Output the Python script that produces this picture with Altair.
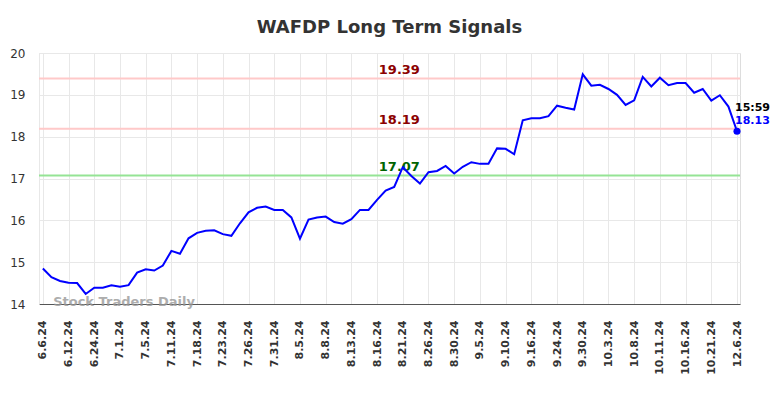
import altair as alt
import pandas as pd

values = [14.85, 14.64, 14.55, 14.51, 14.50, 14.24, 14.39, 14.39, 14.45, 14.41,
          14.45, 14.75, 14.83, 14.80, 14.92, 15.27, 15.20, 15.57, 15.70, 15.75,
          15.76, 15.67, 15.63, 15.93, 16.19, 16.30, 16.33, 16.25, 16.25, 16.07,
          15.56, 16.02, 16.07, 16.09, 15.96, 15.92, 16.03, 16.25, 16.25, 16.49,
          16.71, 16.80, 17.27, 17.06, 16.88, 17.15, 17.18, 17.30, 17.12, 17.28,
          17.39, 17.35, 17.35, 17.72, 17.71, 17.58, 18.39, 18.44, 18.44, 18.49,
          18.74, 18.69, 18.65, 19.49, 19.22, 19.24, 19.14, 19.00, 18.76, 18.87,
          19.43, 19.20, 19.41, 19.23, 19.28, 19.28, 19.05, 19.14, 18.86, 18.99,
          18.72, 18.13]

tick_labels = ["6.6.24", "6.12.24", "6.24.24", "7.1.24", "7.5.24", "7.11.24",
               "7.18.24", "7.23.24", "7.26.24", "7.31.24", "8.5.24", "8.8.24",
               "8.13.24", "8.16.24", "8.21.24", "8.26.24", "8.30.24", "9.5.24",
               "9.10.24", "9.16.24", "9.24.24", "9.30.24", "10.3.24", "10.8.24",
               "10.11.24", "10.16.24", "10.21.24", "12.6.24"]

levels = [19.39, 18.19, 17.07]
level_colors = ["#ffc9c9", "#ffc9c9", "#95e495"]
level_text_colors = ["#8b0000", "#8b0000", "#006400"]
last_time = "15:59"

n = len(values)
df = pd.DataFrame({"i": list(range(n)), "v": values})
lv = pd.DataFrame({"v": levels, "c": level_colors, "tc": level_text_colors,
                   "lbl": [f"{v:.2f}" for v in levels], "i": [41.6] * len(levels)})
last = pd.DataFrame({"i": [n - 1], "v": [values[-1]], "t": [last_time],
                     "vl": [f"{values[-1]:.2f}"]})
wm = pd.DataFrame({"i": [1.2], "v": [14.04], "t": ["Stock Traders Daily"]})

tick_vals = list(range(0, n, 3))
label_arr = "[" + ",".join(f"'{t}'" for t in tick_labels) + "]"

xs = alt.Scale(domain=[-0.45, 81.35], nice=False, zero=False)
ys = alt.Scale(domain=[14, 20], nice=False, zero=False)

x_axis = alt.Axis(values=tick_vals, labelExpr=f"{label_arr}[round(datum.value/3)]",
                  labelAngle=270, labelFontWeight="bold", labelFontSize=11,
                  labelColor="#333333", labelPadding=16, ticks=False,
                  labelOverlap=False, labelBound=False, labelFlush=False,
                  grid=True, gridColor="#e8e8e8", domainColor="#555555",
                  title=None, labelFont="DejaVu Sans", labelAlign="right",
                  labelBaseline="middle")
y_axis = alt.Axis(values=[14, 15, 16, 17, 18, 19, 20], ticks=False, labelPadding=14,
                  labelFontSize=12, labelColor="#333333", grid=True,
                  gridColor="#e8e8e8", domainColor="#e8e8e8", title=None,
                  labelFont="DejaVu Sans", labelFlush=False, labelOverlap=False)

X = alt.X("i:Q", scale=xs, axis=x_axis)
Y = alt.Y("v:Q", scale=ys, axis=y_axis)

rules = alt.Chart(lv).mark_rule(strokeWidth=2).encode(
    y=Y, color=alt.Color("c:N", scale=None))

rule_text = alt.Chart(lv).mark_text(align="center", baseline="bottom", dy=-2,
                                    fontSize=13, fontWeight="bold",
                                    font="DejaVu Sans").encode(
    x=X, y=Y, text="lbl:N", color=alt.Color("tc:N", scale=None))

watermark = alt.Chart(wm).mark_text(align="left", baseline="middle", fontSize=13,
                                    fontWeight="bold", color="#999999", opacity=0.8,
                                    font="DejaVu Sans").encode(x=X, y=Y, text="t:N")

line = alt.Chart(df).mark_line(color="#0000ff", strokeWidth=2).encode(x=X, y=Y)

dot = alt.Chart(last).mark_circle(color="#0000ff", size=50, opacity=1).encode(x=X, y=Y)

t1 = alt.Chart(last).mark_text(align="left", baseline="middle", dx=-2, dy=-23,
                               fontSize=11, fontWeight="bold", color="#000000",
                               font="DejaVu Sans").encode(x=X, y=Y, text="t:N")
t2 = alt.Chart(last).mark_text(align="left", baseline="middle", dx=-2, dy=-10,
                               fontSize=11, fontWeight="bold", color="#0000ff",
                               font="DejaVu Sans").encode(x=X, y=Y, text="vl:N")

chart = alt.layer(rules, rule_text, line, watermark, dot, t1, t2).properties(
    width=701, height=251,
    title=alt.TitleParams("WAFDP Long Term Signals", fontSize=18, fontWeight="bold",
                          color="#333333", font="DejaVu Sans", offset=10),
    autosize=alt.AutoSizeParams(type="none"),
    padding={"left": 31, "top": 45, "right": 36, "bottom": 80},
).configure_view(stroke=None).configure(background="white")

chart.save("out.html", embed_options={"renderer": "svg", "actions": False})
